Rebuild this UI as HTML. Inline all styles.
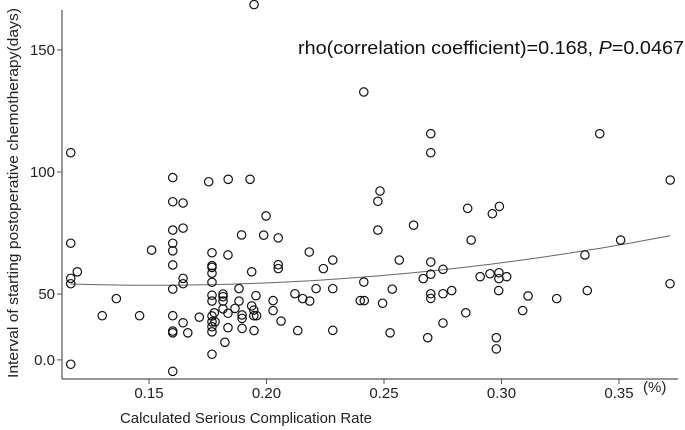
<!DOCTYPE html>
<html><head><meta charset="utf-8"><style>
body{margin:0;background:#fff;}
svg{display:block;font-family:"Liberation Sans",Arial,sans-serif;}
</style></head><body>
<svg id="chart" width="685" height="430" viewBox="0 0 685 430">
<g id="axes"></g><g id="marks"></g>
</svg>
<script>
const xTickValues=[0.15,0.20,0.25,0.30,0.35];
const xTickLabels=["0.15","0.20","0.25","0.30","0.35"];
const yTickValues=[150,100,50,23];
const yTickLabels=["150","100","50","0.0"];
const xValues=[0.1947,0.2414,0.1167,0.1601,0.1754,0.1837,0.1930,0.1601,0.1645,0.1998,0.1601,0.1645,0.1167,0.1894,0.1988,0.2050,0.1511,0.1601,0.1601,0.1768,0.1836,0.2182,0.2282,0.1601,0.1768,0.1768,0.2050,0.2050,0.2242,0.1195,0.1768,0.1937,0.1167,0.1167,0.1645,0.1645,0.1768,0.1601,0.1883,0.2211,0.2282,0.2414,0.1361,0.1768,0.1815,0.1815,0.1955,0.2121,0.2154,0.2184,0.1768,0.1815,0.1883,0.2028,0.2399,0.2416,0.1815,0.1866,0.1937,0.1946,0.2028,0.1301,0.1460,0.1601,0.1714,0.1778,0.1836,0.1896,0.1896,0.1946,0.1958,0.1768,0.1645,0.1768,0.1781,0.2062,0.1768,0.1836,0.1896,0.1601,0.1601,0.1665,0.1768,0.1947,0.2133,0.2282,0.1823,0.1768,0.1167,0.1601,0.2699,0.2699,0.3418,0.3718,0.2483,0.2474,0.2474,0.2856,0.2961,0.2991,0.2626,0.2871,0.3507,0.2565,0.2699,0.3355,0.2751,0.2667,0.2699,0.2951,0.2989,0.2989,0.3022,0.2909,0.2535,0.2788,0.2751,0.2699,0.2699,0.2988,0.3365,0.3717,0.2494,0.3113,0.3235,0.2848,0.3090,0.2526,0.2751,0.2686,0.2978,0.2978];
const yValues=[168.6,132.8,107.9,97.7,96.0,97.0,97.0,87.8,87.3,82.0,76.2,77.0,70.8,74.2,74.1,73.0,68.0,70.8,67.7,66.9,66.0,67.2,63.9,61.9,61.6,60.9,62.0,60.4,60.4,59.1,58.5,59.1,56.4,54.2,56.4,54.2,54.8,52.0,52.2,52.2,52.2,54.9,48.1,49.5,50.0,48.9,49.3,50.1,48.1,47.1,47.1,47.1,47.1,47.3,47.3,47.3,43.9,44.1,45.1,43.4,43.2,41.1,41.1,41.1,40.5,42.3,42.1,41.4,40.0,41.1,41.1,41.0,38.2,38.6,38.6,38.9,36.6,36.2,35.9,34.8,34.1,34.1,34.5,35.0,35.0,35.1,30.2,25.3,21.2,18.3,115.7,107.9,115.7,96.7,92.2,88.0,76.2,85.1,82.9,85.9,78.2,72.1,72.1,63.9,63.1,66.0,60.1,56.3,58.1,58.3,58.7,56.3,57.1,57.1,52.0,51.4,50.1,50.1,48.2,51.4,51.4,54.2,46.2,49.2,48.1,42.3,43.2,34.1,38.1,32.1,32.1,27.5];
const fitX=[0.1167,0.30,0.3718];
const fitY=[54.1,62.8,73.9];

const NS="http://www.w3.org/2000/svg";
function xs(v){return 149+(v-0.15)*2350;}
function ys(v){return 294-(v-50)*2.44;}
function mk(tag,attrs,parent){const e=document.createElementNS(NS,tag);for(const k in attrs)e.setAttribute(k,attrs[k]);parent.appendChild(e);return e;}
const axes=document.getElementById('axes'),marks=document.getElementById('marks');
const AX=62,AY=379;
let yl=mk('line',{x1:AX,y1:10,x2:AX,y2:AY,stroke:'#555','stroke-width':1.2},axes);


let xl=mk('line',{x1:AX,y1:AY,x2:678,y2:AY,stroke:'#555','stroke-width':1.2},axes);


xTickValues.forEach((v,i)=>{
  const x=xs(v);
  let t=mk('line',{x1:x,y1:AY,x2:x,y2:AY+5,stroke:'#555'},axes);
  
  
  let l=mk('text',{x:x,y:AY+19,'text-anchor':'middle','font-size':15,fill:'#222'},axes);
  l.textContent=xTickLabels[i];
  
  
});
yTickValues.forEach((v,i)=>{
  const y=ys(v);
  let t=mk('line',{x1:AX-5,y1:y,x2:AX,y2:y,stroke:'#555'},axes);
  
  
  let l=mk('text',{x:AX-7,y:y+5,'text-anchor':'end','font-size':15,fill:'#222'},axes);
  l.textContent=yTickLabels[i];
  
  
});
let pct=mk('text',{x:643,y:392,'font-size':15,fill:'#222'},axes);
pct.textContent='(%)';


let xt=mk('text',{x:120,y:423,'font-size':15,fill:'#222',textLength:252,lengthAdjust:'spacingAndGlyphs'},axes);
xt.textContent='Calculated Serious Complication Rate';


let yt=mk('text',{x:0,y:0,'font-size':15,fill:'#222',textLength:370,lengthAdjust:'spacingAndGlyphs',transform:'translate(18,378) rotate(-90)'},axes);
yt.textContent='Interval of starting postoperative chemotherapy(days)';


let an=mk('text',{x:298,y:54,'font-size':18,fill:'#111',textLength:386,lengthAdjust:'spacingAndGlyphs'},axes);
an.innerHTML='rho(correlation coefficient)=0.168, <tspan font-style="italic">P</tspan>=0.0467';


function fit(x){let s=0;for(let i=0;i<3;i++){let p=fitY[i];for(let j=0;j<3;j++)if(j!==i)p*=(x-fitX[j])/(fitX[i]-fitX[j]);s+=p;}return s;}
let d='';const xmin=Math.min(...xValues),xmax=Math.max(...xValues);
for(let k=0;k<=60;k++){const x=xmin+(xmax-xmin)*k/60;d+=(k?'L':'M')+xs(x).toFixed(1)+' '+ys(fit(x)).toFixed(1);}
let fl=mk('path',{d:d,fill:'none',stroke:'#666','stroke-width':1},marks);


xValues.forEach((v,i)=>{
  let c=mk('circle',{cx:xs(v),cy:ys(yValues[i]),r:4.2,fill:'none',stroke:'#111','stroke-width':1.2},marks);
  
  
});
</script>
</body></html>
